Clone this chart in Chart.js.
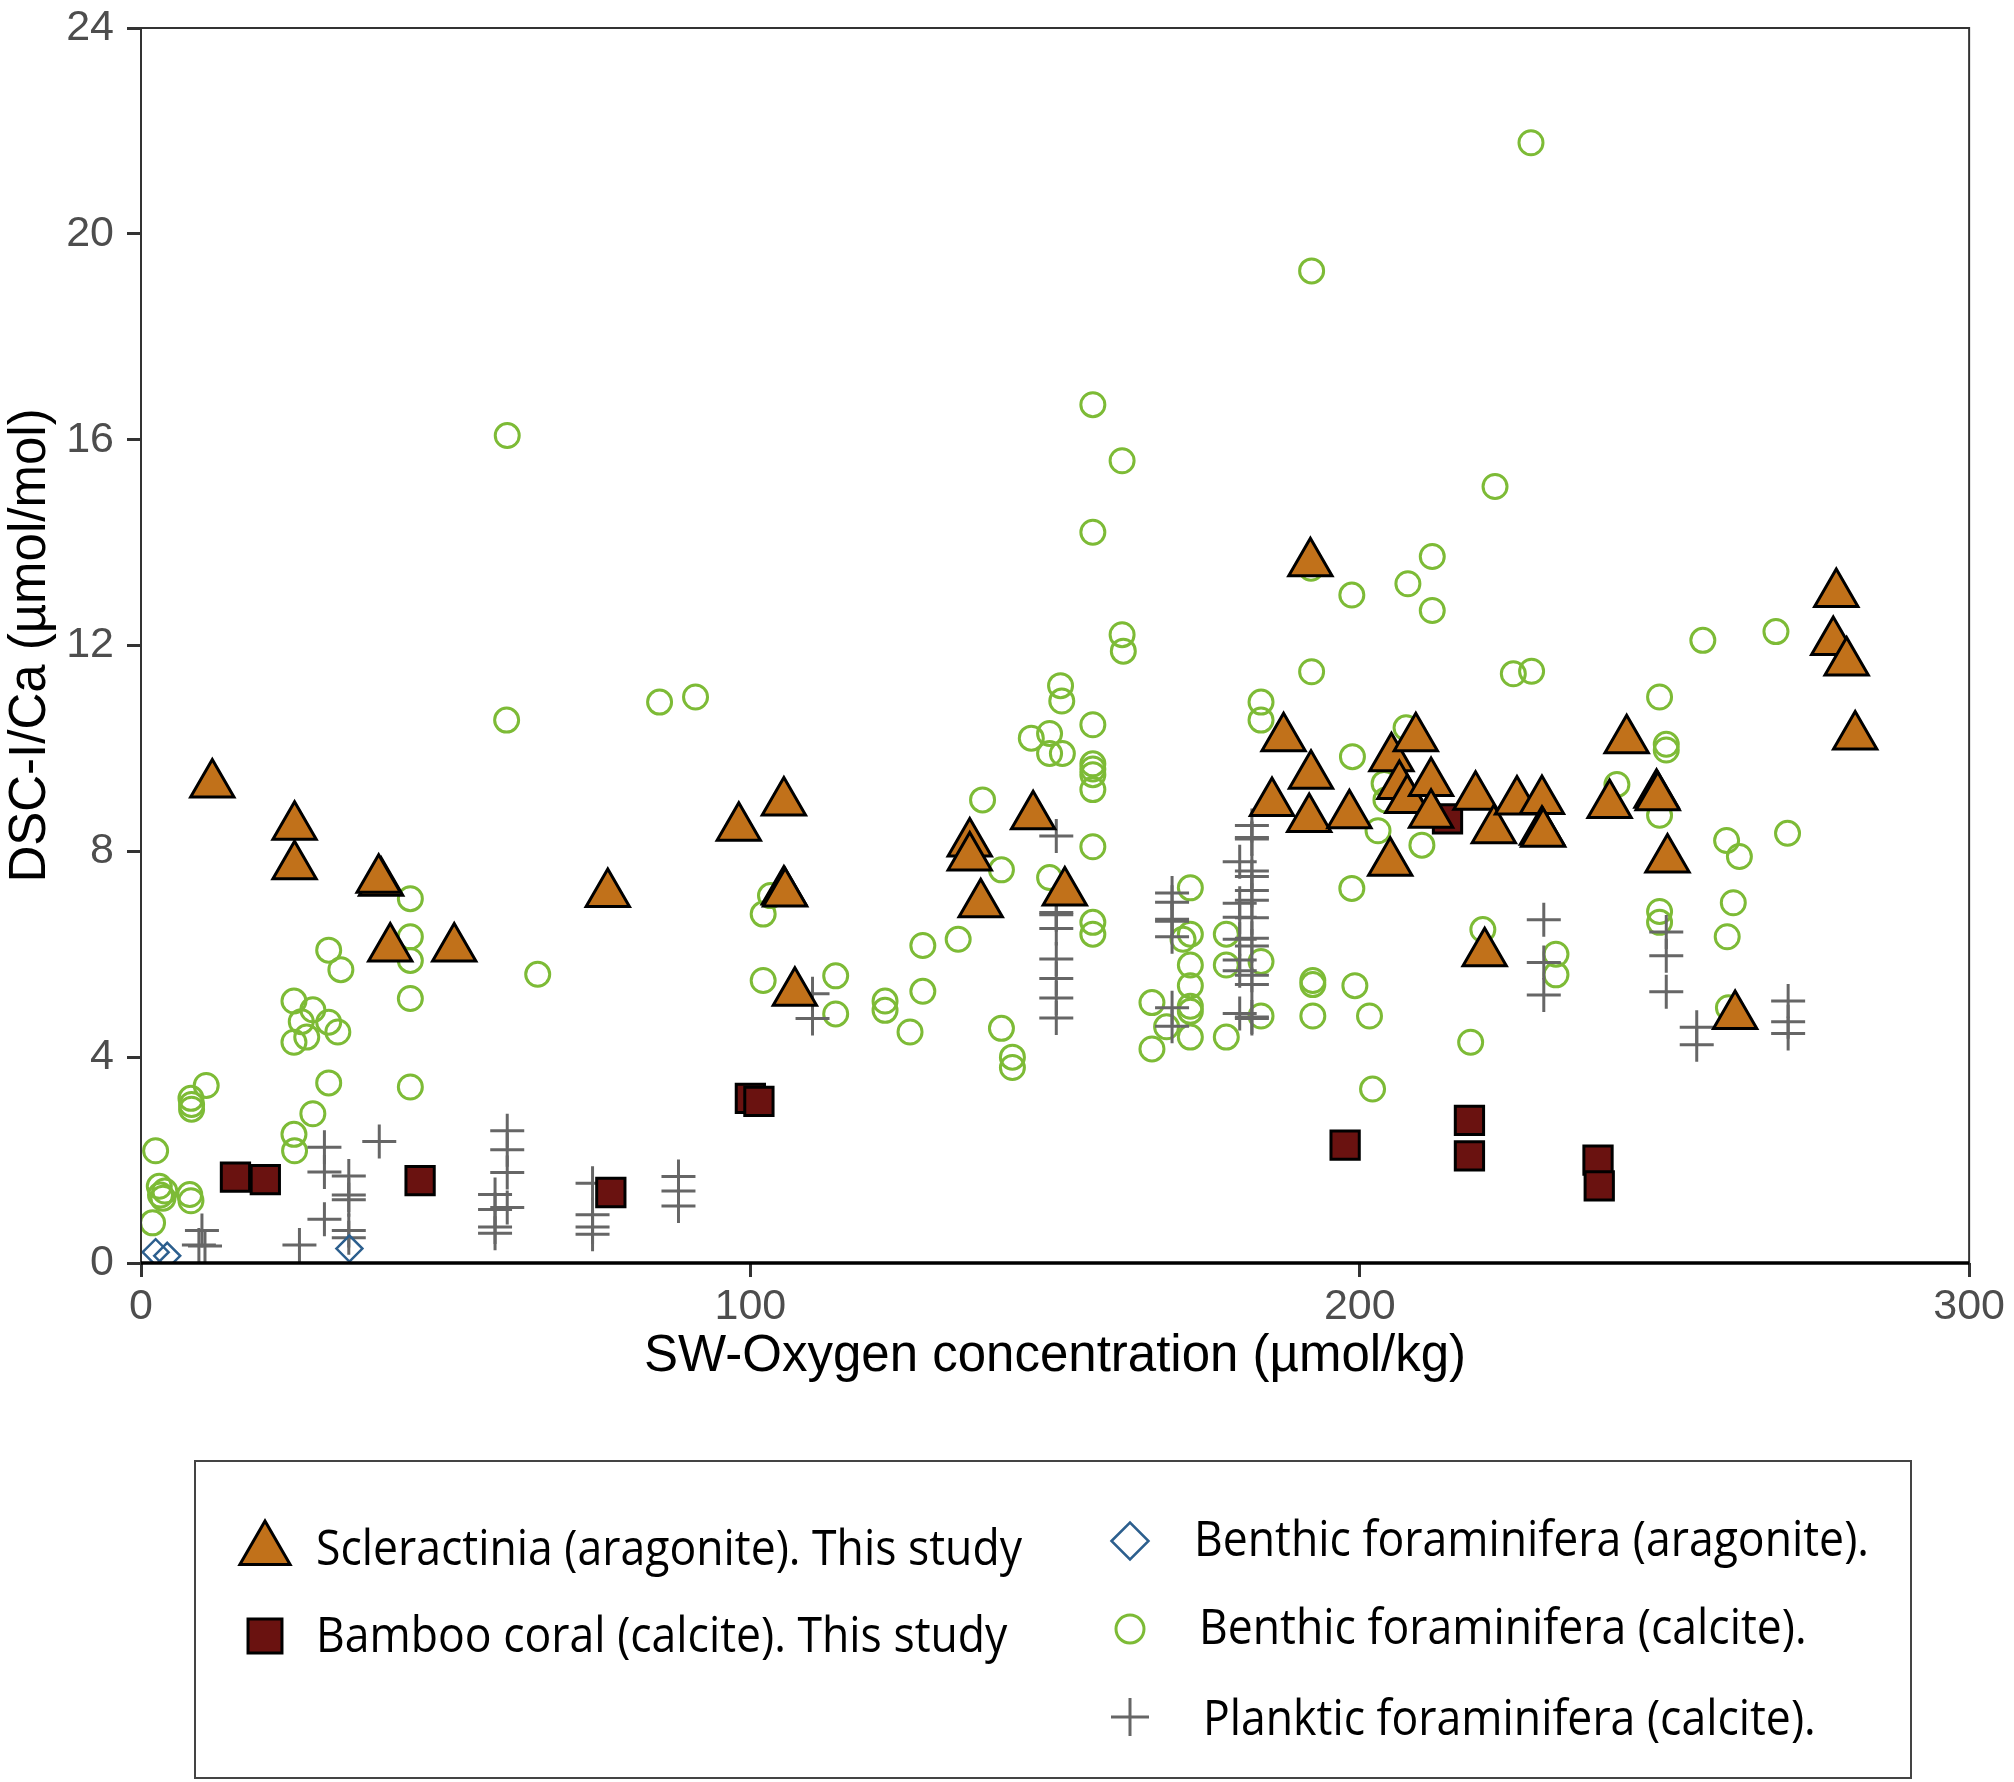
<!DOCTYPE html>
<html>
<head>
<meta charset="utf-8">
<title>DSC-I/Ca vs SW-Oxygen</title>
<script src="https://cdn.jsdelivr.net/npm/chart.js@4.4.1/dist/chart.umd.min.js"></script>
<style>
  html, body { margin: 0; padding: 0; background: #fff; }
  canvas { display: block; }
</style>
</head>
<body>
<canvas id="chart" width="2014" height="1782"></canvas>
<script>
// Scleractinia (aragonite), this study
const sclerO2 = [11.7, 25.2, 25.2, 39.4, 39.0, 40.9, 51.4, 76.6, 98.1, 105.5,
  105.5, 105.7, 107.3, 136.0, 136.0, 137.8, 146.4, 151.6, 191.9, 187.5,
  185.6, 192.0, 191.7, 198.3, 205.0, 205.2, 209.2, 206.5, 207.8, 211.7,
  211.7, 219.0, 222.0, 225.8, 229.9, 229.9, 230.1, 220.5, 241.0, 243.8,
  248.7, 248.9, 250.5, 261.6, 278.2, 277.7, 279.9, 281.3];
const sclerICa = [9.3, 8.48, 7.71, 7.39, 7.45, 6.11, 6.11, 7.17, 8.46, 8.95,
  7.22, 7.18, 5.25, 8.15, 7.88, 6.97, 8.68, 7.2, 13.6, 10.2,
  8.94, 9.47, 8.63, 8.7, 7.78, 9.81, 10.2, 9.27, 9.0, 9.33,
  8.71, 9.06, 8.41, 8.97, 8.98, 8.38, 8.34, 6.02, 8.9, 10.16,
  9.1, 9.05, 7.84, 4.8, 13.0, 12.07, 11.67, 10.23];

// Bamboo coral (calcite), this study
const bambooO2 = [15.5, 20.4, 45.8, 77.1, 100.0, 101.4, 197.6, 214.4, 218.0, 218.0, 239.1, 239.3];
const bambooICa = [1.67, 1.62, 1.6, 1.37, 3.2, 3.14, 2.29, 8.63, 2.77, 2.08, 2.0, 1.5];

// Benthic foraminifera (aragonite)
const bfAragO2 = [2.4, 4.3, 34.2];
const bfAragICa = [0.21, 0.14, 0.28];

// Benthic foraminifera (calcite)
const bfCalcO2 = [1.9, 2.4, 3.0, 3.9, 3.6, 3.2, 8.0, 8.2, 8.2, 8.3,
  8.3, 10.7, 25.1, 28.2, 26.3, 30.8, 32.3, 27.2, 25.1, 30.8,
  32.8, 30.8, 28.2, 25.1, 25.2, 44.2, 44.2, 44.2, 44.2, 44.2,
  60.0, 60.1, 65.1, 85.1, 91.0, 102.1, 103.3, 102.1, 114.0, 114.0,
  122.1, 122.1, 126.2, 128.3, 128.3, 134.1, 138.1, 141.2, 141.2, 143.0,
  143.0, 146.1, 149.1, 149.1, 151.2, 149.1, 150.9, 151.1, 156.2, 156.2,
  156.2, 156.2, 156.2, 156.2, 156.2, 156.2, 156.2, 156.2, 161.0, 161.0,
  161.2, 165.9, 168.3, 165.9, 171.0, 172.2, 172.2, 172.2, 172.2, 172.2,
  172.2, 172.2, 178.1, 178.1, 178.1, 183.8, 183.8, 183.8, 183.8, 192.1,
  192.0, 192.1, 192.3, 192.3, 192.3, 198.7, 198.8, 198.7, 199.2, 201.6,
  202.1, 203.0, 204.0, 204.3, 207.6, 207.9, 210.2, 211.9, 211.9, 218.2,
  220.2, 222.2, 225.2, 228.2, 228.1, 232.2, 232.2, 242.2, 249.2, 250.3,
  250.3, 249.2, 249.2, 249.2, 256.3, 260.2, 262.3, 261.3, 260.3, 260.5,
  268.3, 270.2];
const bfCalcICa = [0.78, 2.18, 1.49, 1.40, 1.26, 1.32, 1.33, 1.21, 3.20, 3.08,
  2.99, 3.45, 5.09, 4.92, 4.69, 4.68, 4.49, 4.39, 4.29, 6.08,
  5.70, 3.50, 2.90, 2.50, 2.18, 7.08, 6.34, 5.88, 5.14, 3.42,
  10.55, 16.08, 5.61, 10.9, 11.0, 6.78, 7.14, 5.49, 5.58, 4.84,
  5.09, 4.91, 4.49, 6.17, 5.28, 6.29, 9.0, 7.64, 4.56, 4.0,
  3.80, 10.2, 10.29, 9.9, 9.9, 7.49, 11.22, 10.92, 10.46, 9.70,
  9.6, 9.49, 9.2, 8.09, 6.62, 6.39, 14.2, 16.68, 15.59, 12.21,
  11.89, 5.06, 4.59, 4.16, 6.29, 7.29, 6.39, 5.79, 5.39, 4.99,
  4.89, 4.39, 6.39, 5.79, 4.39, 10.9, 10.55, 5.86, 4.80, 19.28,
  13.5, 11.49, 5.49, 5.41, 4.80, 12.98, 9.84, 7.28, 5.39, 4.80,
  3.38, 8.4, 9.32, 9.0, 10.4, 13.2, 8.12, 13.73, 12.68, 4.29,
  6.48, 15.09, 11.45, 11.5, 21.77, 6.0, 5.60, 9.3, 11.0, 10.08,
  9.97, 8.70, 6.83, 6.62, 12.1, 8.21, 7.90, 7.0, 6.34, 4.96,
  12.27, 8.35];

// Planktic foraminifera (calcite)
const pfCalcO2 = [10.0, 9.5, 10.5, 26.0, 30.1, 30.1, 30.1, 34.1, 34.1, 34.1,
  34.1, 34.1, 39.1, 60.1, 60.1, 60.1, 60.1, 58.1, 58.1, 58.1,
  58.1, 74.1, 74.1, 74.1, 74.1, 88.2, 88.2, 88.2, 110.2, 110.2,
  150.2, 150.2, 150.2, 150.2, 150.2, 150.2, 150.2, 150.2, 169.2, 169.2,
  169.2, 169.2, 169.2, 169.2, 169.2, 182.3, 182.3, 182.3, 182.3, 182.3,
  182.3, 182.3, 182.3, 182.3, 182.3, 182.3, 182.3, 182.3, 182.3, 180.3,
  180.3, 180.3, 180.3, 180.3, 180.3, 180.3, 230.2, 230.2, 230.2, 250.3,
  250.3, 250.3, 255.3, 255.3, 270.3, 270.3, 270.3];
const pfCalcICa = [0.63, 0.35, 0.33, 0.35, 2.25, 1.77, 0.85, 1.69, 1.32, 1.23,
  0.63, 0.49, 2.36, 2.57, 2.2, 1.76, 1.08, 1.33, 1.04, 0.70,
  0.58, 1.55, 0.94, 0.70, 0.56, 1.68, 1.40, 1.11, 5.23, 4.75,
  8.30, 6.81, 6.77, 6.50, 5.91, 5.53, 5.15, 4.76, 7.19, 7.01,
  6.68, 6.64, 6.34, 4.96, 4.60, 8.50, 8.27, 8.24, 7.62, 7.51,
  7.24, 7.05, 6.71, 6.31, 6.16, 5.59, 5.41, 4.78, 4.75, 7.80,
  6.99, 6.72, 6.29, 5.89, 5.68, 4.85, 6.67, 5.84, 5.21, 6.43,
  5.97, 5.27, 4.58, 4.24, 5.09, 4.69, 4.46];

const xTicks = [0, 100, 200, 300];
const yTicks = [0, 4, 8, 12, 16, 20, 24];

const pts = (xs, ys) => xs.map((x, i) => ({ x: x, y: ys[i] }));

const xTickFont = { family: '"Liberation Sans", Arial, sans-serif', size: 43, lineHeight: 1.0 };
// small lineHeight keeps the "24" label from pushing the plot area down
const yTickFont = { family: '"Liberation Sans", Arial, sans-serif', size: 43, lineHeight: 0.4 };
const titleFont = { family: '"Liberation Sans", Arial, sans-serif', size: 51 };

// panel border + heavier bottom axis line
const panelBorder = {
  id: 'panelBorder',
  afterDatasetsDraw(chart) {
    const { ctx, chartArea: a } = chart;
    ctx.save();
    ctx.strokeStyle = '#333333';
    ctx.lineWidth = 2;
    ctx.strokeRect(a.left, a.top, a.right - a.left, a.bottom - a.top);
    ctx.strokeStyle = '#000000';
    ctx.lineWidth = 3.5;
    ctx.beginPath();
    ctx.moveTo(a.left, a.bottom);
    ctx.lineTo(a.right, a.bottom);
    ctx.stroke();
    ctx.restore();
  }
};

function drawMark(ctx, style, x, y, r, fill, stroke, lw) {
  ctx.save();
  ctx.lineWidth = lw;
  ctx.strokeStyle = stroke;
  ctx.fillStyle = fill;
  ctx.beginPath();
  if (style === 'triangle') {
    ctx.moveTo(x, y - r);
    ctx.lineTo(x + r * Math.sin(Math.PI / 3), y + r / 2);
    ctx.lineTo(x - r * Math.sin(Math.PI / 3), y + r / 2);
    ctx.closePath();
  } else if (style === 'rect') {
    const s = r * Math.SQRT1_2;
    ctx.rect(x - s, y - s, 2 * s, 2 * s);
  } else if (style === 'rectRot') {
    ctx.moveTo(x - r, y);
    ctx.lineTo(x, y - r);
    ctx.lineTo(x + r, y);
    ctx.lineTo(x, y + r);
    ctx.closePath();
  } else if (style === 'circle') {
    ctx.arc(x, y, r, 0, Math.PI * 2);
  } else if (style === 'cross') {
    ctx.moveTo(x - r, y);
    ctx.lineTo(x + r, y);
    ctx.moveTo(x, y - r);
    ctx.lineTo(x, y + r);
  }
  if (fill !== 'transparent' && style !== 'cross') ctx.fill();
  ctx.stroke();
  ctx.restore();
}

// boxed two-column legend as in the figure
const boxLegend = {
  id: 'boxLegend',
  afterDraw(chart) {
    const ctx = chart.ctx;
    const ds = chart.data.datasets;
    // [dataset index, marker x, marker y, marker radius, text x, baseline y]
    const slots = [
      [0, 265, 1550, 29, 316, 1565],
      [1, 265, 1636, 24, 316, 1652],
      [2, 1130, 1541, 18.5, 1194, 1556],
      [4, 1130, 1629, 14, 1199, 1644],
      [3, 1130, 1717, 19, 1203, 1735]
    ];
    ctx.save();
    ctx.strokeStyle = '#444444';
    ctx.lineWidth = 2;
    ctx.strokeRect(195, 1461, 1716, 317);

    ctx.font = '50px "Liberation Sans Narrow", "Open Sans", sans-serif';
    ctx.fillStyle = '#000000';
    ctx.textBaseline = 'alphabetic';
    const sx = 706 / ctx.measureText(ds[0].label).width;
    slots.forEach(([i, mx, my, mr, tx, ty]) => {
      const d = ds[i];
      drawMark(ctx, d.pointStyle, mx, my, mr, d.pointBackgroundColor,
        d.pointBorderColor, d.pointBorderWidth);
      ctx.save();
      ctx.translate(tx, ty);
      ctx.scale(sx, 1);
      ctx.fillText(d.label, 0, 0);
      ctx.restore();
    });
    ctx.restore();
  }
};

new Chart(document.getElementById('chart'), {
  type: 'scatter',
  data: {
    datasets: [
      {
        label: 'Scleractinia (aragonite). This study',
        data: pts(sclerO2, sclerICa),
        pointStyle: 'triangle',
        pointRadius: 25,
        pointBackgroundColor: '#C1711A',
        pointBorderColor: '#000000',
        pointBorderWidth: 3
      },
      {
        label: 'Bamboo coral (calcite). This study',
        data: pts(bambooO2, bambooICa),
        pointStyle: 'rect',
        pointRadius: 20,
        pointBackgroundColor: '#6A1210',
        pointBorderColor: '#000000',
        pointBorderWidth: 3
      },
      {
        label: 'Benthic foraminifera (aragonite).',
        data: pts(bfAragO2, bfAragICa),
        pointStyle: 'rectRot',
        pointRadius: 13,
        pointBackgroundColor: 'transparent',
        pointBorderColor: '#2C5F8E',
        pointBorderWidth: 2.5
      },
      {
        label: 'Planktic foraminifera (calcite).',
        data: pts(pfCalcO2, pfCalcICa),
        pointStyle: 'cross',
        pointRadius: 17,
        pointBackgroundColor: 'transparent',
        pointBorderColor: '#666666',
        pointBorderWidth: 3
      },
      {
        label: 'Benthic foraminifera (calcite).',
        data: pts(bfCalcO2, bfCalcICa),
        pointStyle: 'circle',
        pointRadius: 12,
        pointBackgroundColor: 'transparent',
        pointBorderColor: '#7DBB36',
        pointBorderWidth: 3
      }
    ]
  },
  options: {
    responsive: false,
    animation: false,
    devicePixelRatio: 1,
    events: [],
    layout: { padding: { left: 0, top: 24, right: 43, bottom: 389 } },
    plugins: {
      legend: { display: false },
      tooltip: { enabled: false }
    },
    scales: {
      x: {
        type: 'linear',
        min: 0,
        max: 300,
        afterBuildTicks: s => { s.ticks = xTicks.map(v => ({ value: v })); },
        afterFit: s => { s.height = 130; },
        ticks: { font: xTickFont, color: '#4D4D4D', padding: 9, maxRotation: 0 },
        grid: { drawOnChartArea: false, drawTicks: true, tickLength: 14, tickWidth: 3, tickColor: '#333333' },
        border: { display: false },
        title: {
          display: true,
          text: 'SW-Oxygen concentration (µmol/kg)',
          font: titleFont,
          color: '#000000',
          padding: { top: 0, bottom: 5 }
        }
      },
      y: {
        type: 'linear',
        min: 0,
        max: 24,
        afterBuildTicks: s => { s.ticks = yTicks.map(v => ({ value: v })); },
        afterFit: s => { s.width = 141; },
        ticks: { font: yTickFont, color: '#4D4D4D', padding: 13 },
        grid: { drawOnChartArea: false, drawTicks: true, tickLength: 14, tickWidth: 3, tickColor: '#333333' },
        border: { display: false },
        title: {
          display: true,
          text: 'DSC-I/Ca (µmol/mol)',
          font: titleFont,
          color: '#000000',
          padding: { top: 0, bottom: 0 }
        }
      }
    }
  },
  plugins: [panelBorder, boxLegend]
});
</script>
</body>
</html>
